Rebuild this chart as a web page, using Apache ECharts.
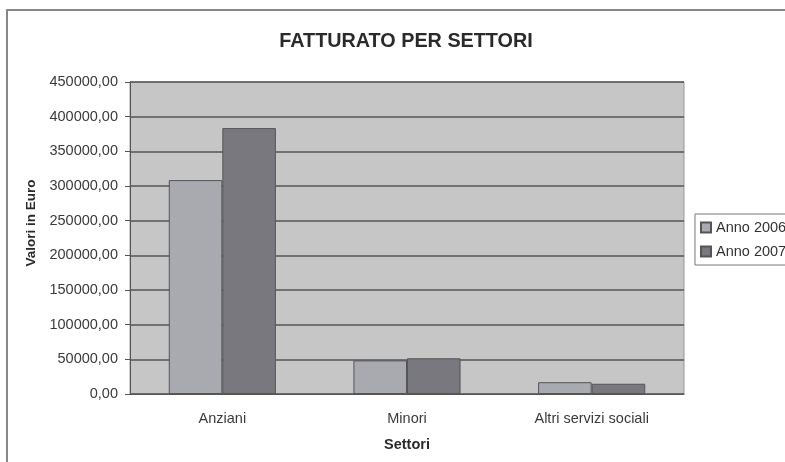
<!DOCTYPE html>
<html><head><meta charset="utf-8">
<script src="https://cdn.jsdelivr.net/npm/echarts@6/dist/echarts.min.js"></script>
<style>html,body{margin:0;padding:0;background:#fff}#c{width:785px;height:462px}</style>
</head><body><div id="c"></div>
<script>
const categories = ['Anziani', 'Minori', 'Altri servizi sociali'];
const anno2006 = [308500, 48500, 17000];
const anno2007 = [383500, 51500, 14800];
const seriesNames = ['Anno 2006', 'Anno 2007'];

const chart = echarts.init(document.getElementById('c'));
const F = 'Liberation Sans, Arial, sans-serif';
chart.setOption({
  animation: false,
  backgroundColor: '#fff',
  title: { text: 'FATTURATO PER SETTORI', left: 401, textAlign: 'center', top: 27,
    textStyle: { fontFamily: F, fontSize: 19.8, fontWeight: 'bold', color: '#2a2a2a' } },
  graphic: [{ type: 'rect', shape: { x: 7, y: 10, width: 800, height: 480 },
    style: { fill: 'none', stroke: '#888', lineWidth: 2 }, z: -1 }],
  legend: { orient: 'vertical', left: 695, top: 214, data: seriesNames,
    itemWidth: 10, itemHeight: 10, itemGap: 9, icon: 'rect',
    padding: [6, 30, 6, 5], borderColor: '#777', borderWidth: 1, backgroundColor: '#fff',
    textStyle: { fontFamily: F, fontSize: 14.5, color: '#333' } },
  grid: { left: 130, right: 101, top: 82, bottom: 68, show: true,
    backgroundColor: '#c6c6c6', borderColor: '#999', borderWidth: 1 },
  xAxis: { type: 'category', data: categories,
    name: 'Settori', nameLocation: 'middle', nameGap: 43,
    nameTextStyle: { fontFamily: F, fontSize: 14.5, fontWeight: 'bold', color: '#2a2a2a' },
    axisLine: { lineStyle: { color: '#555' } },
    axisTick: { length: 5, lineStyle: { color: '#555' } },
    axisLabel: { fontFamily: F, fontSize: 14.5, color: '#3a3a3a', margin: 17 } },
  yAxis: { type: 'value', min: 0, max: 450000, interval: 50000,
    name: 'Valori in Euro', nameLocation: 'middle', nameGap: 92,
    nameTextStyle: { fontFamily: F, fontSize: 13.5, fontWeight: 'bold', color: '#2a2a2a', padding: [0, 0, 0, 30] },
    axisLine: { show: true, lineStyle: { color: '#555' } },
    axisTick: { show: true, length: 5, lineStyle: { color: '#555' } },
    splitLine: { lineStyle: { color: '#555', width: 1.5 } },
    axisLabel: { fontFamily: F, fontSize: 14.5, color: '#3a3a3a', margin: 12,
      formatter: v => v.toFixed(2).replace('.', ',') } },
  series: [
    { name: seriesNames[0], type: 'bar', data: anno2006, barGap: '0%', barCategoryGap: '42%',
      itemStyle: { color: '#a9a9b0', borderColor: '#555', borderWidth: 1 } },
    { name: seriesNames[1], type: 'bar', data: anno2007,
      itemStyle: { color: '#78787e', borderColor: '#555', borderWidth: 1 } }
  ]
});
</script></body></html>
